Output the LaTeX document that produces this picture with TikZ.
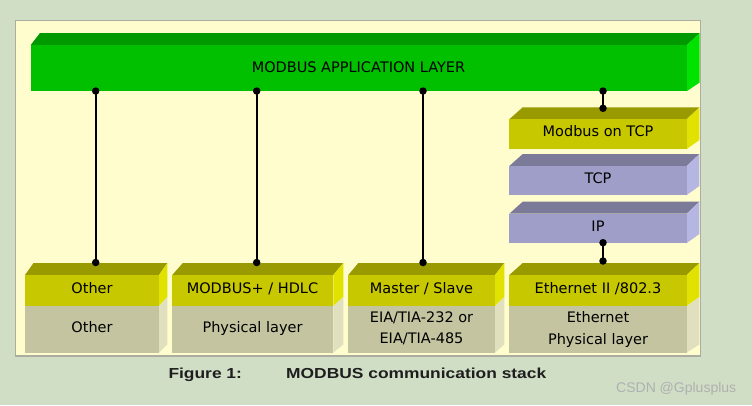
\documentclass[tikz,border=0pt]{standalone}
\usepackage{fontspec}
\setmainfont{DejaVu Sans}
\newfontfamily\capfont{Liberation Sans}
\definecolor{pagebg}{RGB}{208,222,198}
\definecolor{panelbg}{RGB}{255,252,206}
\definecolor{panelrule}{RGB}{172,172,160}
\definecolor{grnfront}{RGB}{0,192,0}
\definecolor{grntop}{RGB}{0,153,0}
\definecolor{grnside}{RGB}{0,226,0}
\definecolor{ylwfront}{RGB}{200,200,0}
\definecolor{ylwtop}{RGB}{153,153,0}
\definecolor{ylwside}{RGB}{226,226,0}
\definecolor{khkfront}{RGB}{196,196,160}
\definecolor{khkside}{RGB}{224,224,190}
\definecolor{lavfront}{RGB}{158,158,200}
\definecolor{lavtop}{RGB}{123,123,153}
\definecolor{lavside}{RGB}{182,182,226}
\definecolor{wmgray}{RGB}{176,176,176}

% top face of a block: x1, x2, y(front top), left shift, right shift, colour
\newcommand\lid[6]{\fill[#6] (#1,#3) -- (#1+#4,#3-12) -- (#2+#5,#3-12) -- (#2,#3) -- cycle;}
% side face: x, y top, y bottom, depth, rise at top, rise at bottom, colour
\newcommand\flank[7]{\fill[#7] (#1,#2) -- (#1+#4,#2-#5) -- (#1+#4,#3-#6) -- (#1,#3) -- cycle;}

\tikzset{
  face/.style={rectangle, inner sep=0pt, outer sep=0pt, anchor=north west},
  lbl/.style={anchor=base, inner sep=0pt, font=\fontsize{14.5}{21.3}\selectfont, align=center},
  link/.style={line width=2pt, black},
  dot/.style={circle, fill=black, inner sep=0pt, minimum size=7.5pt},
}

\begin{document}
\begin{tikzpicture}[x=1pt,y=-1pt]
\useasboundingbox (0,0) rectangle (752,405);
\fill[pagebg] (0,0) rectangle (752,405);
\filldraw[fill=panelbg, draw=panelrule, line width=1.3pt] (15.7,20.7) rectangle (700.7,356);

% application layer bar
\lid{30.7}{687}{45}{9.3}{12.7}{grntop}
\flank{687}{45}{91}{12.7}{12}{8.5}{grnside}
\node[face, fill=grnfront, minimum width=656.3pt, minimum height=46pt] (app) at (30.7,45) {};
\node[lbl] (applbl) at (358.5,72.7) {MODBUS APPLICATION LAYER};

% TCP/IP stack
\lid{509.3}{686.7}{119.3}{13.4}{12.7}{ylwtop}
\flank{686.7}{119.3}{149}{12.7}{12}{9}{ylwside}
\node[face, fill=ylwfront, minimum width=177.4pt, minimum height=29.7pt] (mtcp) at (509.3,119.3) {};
\node[lbl] (mtcplbl) at (598,136.7) {Modbus on TCP};

\lid{509.3}{686.7}{166}{13.4}{12.7}{lavtop}
\flank{686.7}{166}{195}{12.7}{12}{9}{lavside}
\node[face, fill=lavfront, minimum width=177.4pt, minimum height=29pt] (tcp) at (509.3,166) {};
\node[lbl] (tcplbl) at (598,183) {TCP};

\lid{509.3}{686.7}{213.7}{13.4}{12.7}{lavtop}
\flank{686.7}{213.7}{243}{12.7}{12}{9}{lavside}
\node[face, fill=lavfront, minimum width=177.4pt, minimum height=29.3pt] (ip) at (509.3,213.7) {};
\node[lbl] (iplbl) at (598,231.7) {IP};

% bottom blocks: upper (protocol) and lower (physical) parts
\foreach \xa/\xb/\dl/\dr/\nm in {25/159/8.5/8.3/one, 172.3/333.3/10.5/10/two, 348.3/495/10/9.3/three, 509.3/686.7/13.4/12.7/four}{
  \lid{\xa}{\xb}{275}{\dl}{\dr}{ylwtop}
  \flank{\xb}{275}{306}{\dr}{12}{9}{ylwside}
  \flank{\xb}{306}{352.5}{\dr}{9}{8}{khkside}
  \pgfmathsetmacro\blkw{\xb-\xa}
  \node[face, fill=ylwfront, minimum width=\blkw pt, minimum height=31pt] (up-\nm) at (\xa,275) {};
  \node[face, fill=khkfront, minimum width=\blkw pt, minimum height=46.5pt] (lo-\nm) at (\xa,306) {};
}
\node[lbl] (t-one) at (92,293.3) {Other};
\node[lbl] (b-one) at (92,332.7) {Other};
\node[lbl] (t-two) at (252.5,293.3) {MODBUS+ / HDLC};
\node[lbl] (b-two) at (252.5,332.7) {Physical layer};
\node[lbl] (t-three) at (421.5,293.3) {Master / Slave};
\node[lbl, anchor=north] (b-three) at (421.5,311.5) {EIA/TIA-232 or\\EIA/TIA-485};
\node[lbl, anchor=north] (b-four) at (598,311.5) {Ethernet\\Physical layer};
\node[lbl] (t-four) at (598,293.3) {Ethernet II /802.3};

% connector end points
\coordinate (a1) at (95.7,91);   \coordinate (e1) at (95.7,262.5);
\coordinate (a2) at (256.7,91);  \coordinate (e2) at (256.7,262.5);
\coordinate (a3) at (423,91);    \coordinate (e3) at (423,262.5);
\coordinate (a4) at (603,91);    \coordinate (m4) at (603,108.3);
\coordinate (i4) at (603,242.7); \coordinate (e4) at (603,261);

\foreach \p/\q in {a1/e1, a2/e2, a3/e3, a4/m4, i4/e4}{
  \draw[link] (\p) -- (\q);
  \node[dot] at (\p) {};
  \node[dot] at (\q) {};
}

% caption
\node[anchor=base west, inner sep=0pt, text={rgb,255:red,30;green,30;blue,30}] (capnum) at (168.3,378.3)
  {\scalebox{1.2}[1]{\capfont\bfseries\fontsize{14.5}{17}\selectfont Figure 1:}};
\node[anchor=base west, inner sep=0pt, text={rgb,255:red,30;green,30;blue,30}] (captext) at (286,378.3)
  {\scalebox{1.2}[1]{\capfont\bfseries\fontsize{14.5}{17}\selectfont MODBUS communication stack}};

\node[anchor=base west, inner sep=0pt, text=wmgray] (wm) at (616,392.5)
  {\capfont\fontsize{14}{16}\selectfont CSDN @Gplusplus};
\end{tikzpicture}
\end{document}
